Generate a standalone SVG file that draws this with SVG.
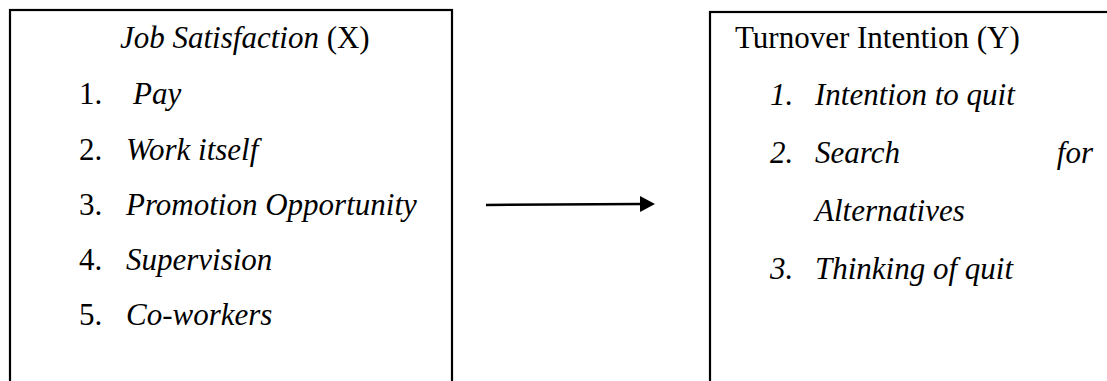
<svg xmlns="http://www.w3.org/2000/svg" width="1107" height="381" viewBox="0 0 1107 381">
<style>
.box{fill:#fff;stroke:#000;stroke-width:2.2}
text{font-family:"Liberation Serif","Times New Roman",serif;font-size:31px;fill:#000}
.i{font-style:italic}
.conn{stroke:#000;stroke-width:2.5;fill:none}
</style>
<defs>
<marker id="ah" markerWidth="16" markerHeight="16" refX="1" refY="8" orient="auto" markerUnits="userSpaceOnUse">
<path d="M0,0 L15,8 L0,16 z" fill="#000"/>
</marker>
</defs>
<rect width="1107" height="381" fill="#fff"/>
<g id="node-x">
<rect class="box" x="10" y="10" width="442" height="400"/>
<text x="120" y="48"><tspan class="i">Job Satisfaction</tspan> (X)</text>
<text x="79" y="104">1.</text><text class="i" x="133" y="104">Pay</text>
<text x="79" y="160">2.</text><text class="i" x="126" y="160">Work itself</text>
<text x="79" y="215">3.</text><text class="i" x="126" y="215">Promotion Opportunity</text>
<text x="79" y="270">4.</text><text class="i" x="126" y="270">Supervision</text>
<text x="79" y="325">5.</text><text class="i" x="126" y="325">Co-workers</text>
</g>
<g id="node-y">
<rect class="box" x="710" y="12" width="420" height="400"/>
<text x="735" y="48">Turnover Intention (Y)</text>
<text class="i" x="770" y="105">1.</text><text class="i" x="815" y="105">Intention to quit</text>
<text class="i" x="770" y="163">2.</text><text class="i" x="815" y="163">Search</text><text class="i" x="1093" y="163" text-anchor="end">for</text>
<text class="i" x="815" y="221">Alternatives</text>
<text class="i" x="770" y="279">3.</text><text class="i" x="815" y="279">Thinking of quit</text>
</g>
<g id="connectors">
<line class="conn" x1="486" y1="205" x2="641" y2="204" marker-end="url(#ah)"/>
</g>
</svg>
